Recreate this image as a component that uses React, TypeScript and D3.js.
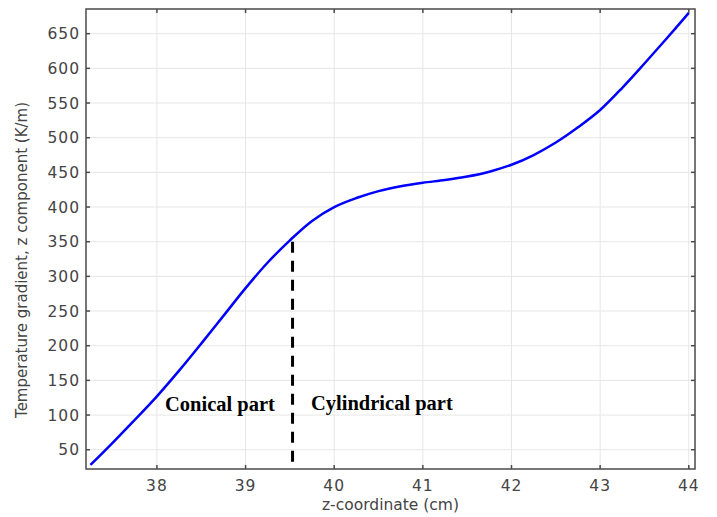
import React from "react";
import * as d3 from "d3";

// z-coordinate (cm) and the z component of the temperature gradient (K/m)
const zCoord = [37.25, 37.5, 37.75, 38, 38.25, 38.5, 38.75, 39, 39.25, 39.5, 39.75, 40, 40.25, 40.5, 40.75, 41, 41.25, 41.5, 41.75, 42, 42.25, 42.5, 42.75, 43, 43.25, 43.5, 43.75, 44];
const gradZ = [28, 60, 93, 127, 164, 203, 243, 283, 320, 352, 380, 400, 413, 423, 430, 435, 439, 444, 451, 461, 475, 493, 515, 540, 572, 607, 643, 680];

const xTicks = [38, 39, 40, 41, 42, 43, 44];
const yTicks = [50, 100, 150, 200, 250, 300, 350, 400, 450, 500, 550, 600, 650];

// boundary between the conical and cylindrical sections
const boundaryZ = 39.53;
const boundaryTop = 350;
const boundaryBottom = 32;

const W = 717;
const H = 517;
const M = { left: 86, top: 9, right: 695, bottom: 469 };

export default function App() {
  const x = d3.scaleLinear().domain([37.2, 44.07]).range([M.left, M.right]);
  const y = d3.scaleLinear().domain([22.2, 685.6]).range([M.bottom, M.top]);

  const line = d3
    .line<number>()
    .x((_, i) => x(zCoord[i]))
    .y((d) => y(d))
    .curve(d3.curveCatmullRom.alpha(0.5));

  const font = "DejaVu Sans, Verdana, sans-serif";
  const tickColor = "#444";
  const frame = "#4a4a4a";
  const tl = 4;

  return (
    <svg
      width={W}
      height={H}
      style={{ position: "absolute", left: 0, top: 0, background: "#fff" }}
    >
      <rect x={0} y={0} width={W} height={H} fill="#fff" />
      {/* grid */}
      <g stroke="#e6e6e6" strokeWidth={1}>
        {xTicks.map((t) => (
          <line key={"gx" + t} x1={x(t)} x2={x(t)} y1={M.top} y2={M.bottom} />
        ))}
        {yTicks.map((t) => (
          <line key={"gy" + t} x1={M.left} x2={M.right} y1={y(t)} y2={y(t)} />
        ))}
      </g>

      {/* data curve */}
      <path d={line(gradZ) ?? ""} fill="none" stroke="#0000ff" strokeWidth={2.5} />

      {/* section boundary */}
      <line
        x1={x(boundaryZ)}
        x2={x(boundaryZ)}
        y1={y(boundaryTop)}
        y2={y(boundaryBottom)}
        stroke="#000"
        strokeWidth={3}
        strokeDasharray="11 8"
      />

      {/* frame and ticks */}
      <rect
        x={M.left}
        y={M.top}
        width={M.right - M.left}
        height={M.bottom - M.top}
        fill="none"
        stroke={frame}
        strokeWidth={1.5}
      />
      <g stroke={frame} strokeWidth={1.5}>
        {xTicks.map((t) => (
          <g key={"tx" + t}>
            <line x1={x(t)} x2={x(t)} y1={M.bottom} y2={M.bottom - tl} />
            <line x1={x(t)} x2={x(t)} y1={M.top} y2={M.top + tl} />
          </g>
        ))}
        {yTicks.map((t) => (
          <g key={"ty" + t}>
            <line x1={M.left} x2={M.left + tl} y1={y(t)} y2={y(t)} />
            <line x1={M.right} x2={M.right - tl} y1={y(t)} y2={y(t)} />
          </g>
        ))}
      </g>

      {/* tick labels */}
      <g fontFamily={font} fontSize={15.5} fill={tickColor}>
        {xTicks.map((t) => (
          <text key={"lx" + t} x={x(t)} y={491} textAnchor="middle" letterSpacing={1}>
            {t}
          </text>
        ))}
        {yTicks.map((t) => (
          <text key={"ly" + t} x={80} y={y(t) + 5.5} textAnchor="end" letterSpacing={1}>
            {t}
          </text>
        ))}
      </g>

      {/* axis titles */}
      <text
        x={(M.left + M.right) / 2}
        y={510}
        textAnchor="middle"
        fontFamily={font}
        fontSize={15.5}
        fill={tickColor}
      >
        z-coordinate (cm)
      </text>
      <text
        transform={`translate(27, ${(M.top + M.bottom) / 2 + 21}) rotate(-90)`}
        textAnchor="middle"
        fontFamily={font}
        fontSize={15}
        fill={tickColor}
      >
        Temperature gradient, z component (K/m)
      </text>

      {/* section labels */}
      <g fontFamily="Liberation Serif, Times New Roman, serif" fontWeight="bold" fontSize={20.5} fill="#000">
        <text x={165} y={411}>Conical part</text>
        <text x={311} y={410}>Cylindrical part</text>
      </g>
    </svg>
  );
}
